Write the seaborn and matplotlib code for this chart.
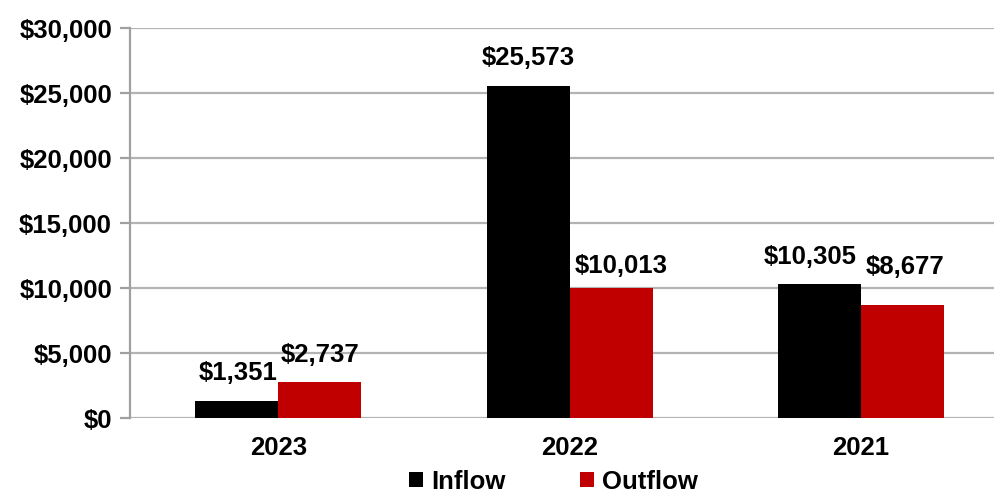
import matplotlib
matplotlib.use("Agg")
import matplotlib.pyplot as plt
import seaborn as sns
import pandas as pd

years = ["2023", "2022", "2021"]
inflow = [1351, 25573, 10305]
outflow = [2737, 10013, 8677]
series_names = ["Inflow", "Outflow"]
colors = ["#000000", "#C00000"]
yticks = [0, 5000, 10000, 15000, 20000, 25000, 30000]

# label nudges in pixels (dx, dy) per series / year, matching reference placement
label_nudge = [
    [(1, 0), (0, 0), (-9, 0)],
    [(0, 0), (10, -5), (3, 11)],
]

df = pd.DataFrame({
    "year": years * 2,
    "value": inflow + outflow,
    "series": [series_names[0]] * 3 + [series_names[1]] * 3,
})

sns.set_theme(style="white")
plt.rcParams["font.family"] = ["Liberation Sans", "DejaVu Sans"]
plt.rcParams["font.weight"] = "bold"
plt.rcParams["text.color"] = "black"
plt.rcParams["xtick.color"] = "black"
plt.rcParams["ytick.color"] = "black"

FS = 18.5

fig = plt.figure(figsize=(9.95, 4.93), dpi=100)
ax = fig.add_axes([0.1307, 0.152, 0.8693, 0.791])

sns.barplot(data=df, x="year", y="value", hue="series", palette=colors,
            width=0.57, ax=ax, saturation=1, legend=True, linewidth=0)

ax.set_ylim(0, 30000)
ax.set_xlim(-0.509, 2.46)
ax.set_yticks(yticks)
ax.set_yticklabels([f"${v:,}" for v in yticks], fontsize=FS, fontweight="bold")
ax.set_xticks(range(len(years)))
ax.set_xticklabels(years, fontsize=FS, fontweight="bold")
ax.set_xlabel("")
ax.set_ylabel("")
ax.grid(axis="y", color="#B3B3B3", linewidth=1.6)
ax.set_axisbelow(True)
for s in ["top", "right", "bottom"]:
    ax.spines[s].set_visible(False)
ax.spines["left"].set_color("#A0A0A0")
ax.spines["left"].set_linewidth(1.6)
ax.tick_params(axis="y", length=7, width=1.6, color="#A0A0A0", labelcolor="black", pad=6, left=True)
ax.tick_params(axis="x", length=0, pad=13, labelcolor="black")

PAD = 11  # points
px2pt = 72 / 100
for ci, cont in enumerate(ax.containers):
    for bi, bar in enumerate(cont.patches):
        v = bar.get_height()
        dx, dy = label_nudge[ci][bi]
        ax.annotate(f"${v:,.0f}",
                    xy=(bar.get_x() + bar.get_width() / 2, v),
                    xytext=(dx * px2pt, PAD + dy * px2pt), textcoords="offset points",
                    ha="center", va="bottom", fontsize=FS, fontweight="bold",
                    color="black")

handles, labels = ax.get_legend_handles_labels()
ax.get_legend().remove()
fig.legend(handles, labels, loc="lower center", bbox_to_anchor=(0.556, -0.048),
           ncol=2, frameon=False, handlelength=0.55, handleheight=0.55,
           handletextpad=0.3, columnspacing=2.9,
           prop={"size": FS, "weight": "bold"})

fig.savefig("out.png", dpi=100)
